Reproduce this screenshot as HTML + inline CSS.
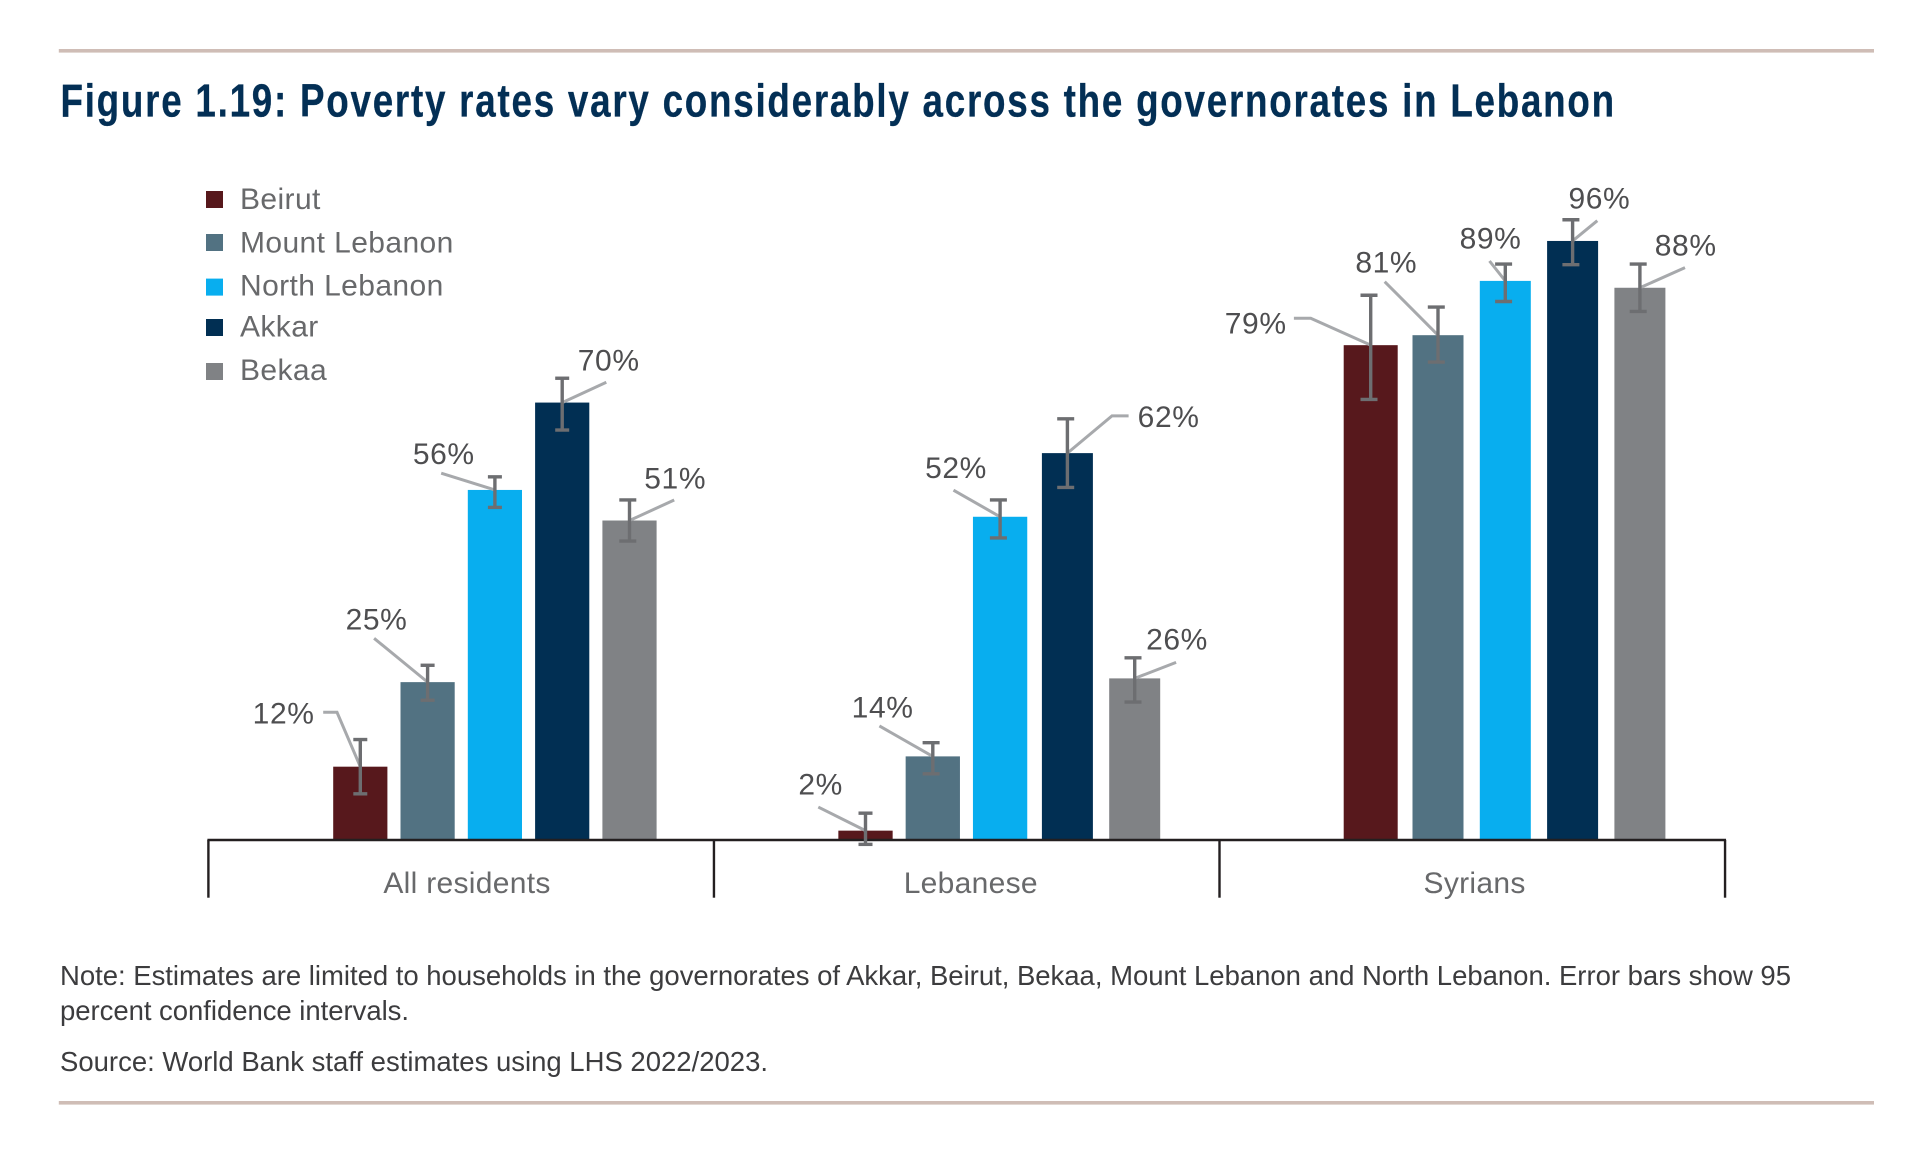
<!DOCTYPE html>
<html lang="en">
<head>
<meta charset="utf-8">
<title>Figure 1.19: Poverty rates across governorates in Lebanon</title>
<style>
  html, body { margin: 0; padding: 0; background: #fff; width: 1922px; height: 1154px; overflow: hidden; }
  svg { display: block; }
  text { font-family: "Liberation Sans", sans-serif; }
  .title { font-family: "Liberation Sans", sans-serif; font-weight: 700; font-size: 46px; fill: #032f55; stroke: #032f55; stroke-width: .3px; }
  .foot { font-size: 27.5px; fill: #3c3c3e; }
  .legend-text { font-size: 30px; fill: #68696b; letter-spacing: .4px; }
  .cat-text { font-size: 30px; fill: #68696b; letter-spacing: .3px; }
  .pct { font-size: 30px; fill: #4e4e50; letter-spacing: .6px; text-anchor: middle; }
</style>
</head>
<body>
<svg id="figure" xmlns="http://www.w3.org/2000/svg" width="1922" height="1154" viewBox="0 0 1922 1154">
  <rect x="58.8" y="49" width="1815.2" height="3.6" fill="#cfbdb6"/>
  <text class="title" transform="translate(60.5,116.7) scale(.8,1)" x="0" y="0" textLength="1942" lengthAdjust="spacing">Figure 1.19: Poverty rates vary considerably across the governorates in Lebanon</text>
  <g id="chart"></g>
  <text class="foot" x="60" y="985" textLength="1731" lengthAdjust="spacing">Note: Estimates are limited to households in the governorates of Akkar, Beirut, Bekaa, Mount Lebanon and North Lebanon. Error bars show 95</text>
  <text class="foot" x="60" y="1020" textLength="349" lengthAdjust="spacing">percent confidence intervals.</text>
  <text class="foot" x="60" y="1071" textLength="708" lengthAdjust="spacing">Source: World Bank staff estimates using LHS 2022/2023.</text>
  <rect x="58.8" y="1101" width="1815.2" height="3.6" fill="#cfbdb6"/>
</svg>
<script>
// ---- chart data (percent of population) ----
const categories = ['All residents', 'Lebanese', 'Syrians'];
const seriesNames = ['Beirut', 'Mount Lebanon', 'North Lebanon', 'Akkar', 'Bekaa'];

const beirutValues = [11.75, 1.5, 79.3];
const mountLebanonValues = [25.3, 13.4, 80.9];
const northLebanonValues = [56.1, 51.8, 89.6];
const akkarValues = [70.1, 62, 96];
const bekaaValues = [51.2, 25.9, 88.5];

const beirutLow = [7.4, -0.7, 70.6];
const mountLebanonLow = [22.4, 10.6, 76.6];
const northLebanonLow = [53.3, 48.4, 86.3];
const akkarLow = [65.7, 56.5, 92.2];
const bekaaLow = [47.9, 22.1, 84.7];

const beirutHigh = [16.1, 4.3, 87.3];
const mountLebanonHigh = [28, 15.6, 85.4];
const northLebanonHigh = [58.2, 54.5, 92.3];
const akkarHigh = [74, 67.5, 99.4];
const bekaaHigh = [54.5, 29.2, 92.3];

const beirutPrinted = ['12%', '2%', '79%'];
const mountLebanonPrinted = ['25%', '14%', '81%'];
const northLebanonPrinted = ['56%', '52%', '89%'];
const akkarPrinted = ['70%', '62%', '96%'];
const bekaaPrinted = ['51%', '26%', '88%'];

// ---- presentation ----
const seriesColors = ['#57181c', '#527282', '#08aeef', '#012f53', '#808285'];
const valueSets = [beirutValues, mountLebanonValues, northLebanonValues, akkarValues, bekaaValues];
const lowSets = [beirutLow, mountLebanonLow, northLebanonLow, akkarLow, bekaaLow];
const highSets = [beirutHigh, mountLebanonHigh, northLebanonHigh, akkarHigh, bekaaHigh];
const printedSets = [beirutPrinted, mountLebanonPrinted, northLebanonPrinted, akkarPrinted, bekaaPrinted];

// callout layout relative to each bar's top-centre: [label dx, label dy, [leader points...]]
const calloutLayout = [
  [[-76.7,-43.4,[[-37.1,-54.4],[-23.3,-54.4]]], [-44.9,-36.3,[[-47.2,-23.6]]], [-115,-11.9,[[-76.8,-26.9],[-60,-26.9]]]],
  [[-51.1,-52.8,[[-53.5,-43.8]]], [-50.2,-38.9,[[-53.4,-30.4]]], [-51.7,-62.5,[[-53.3,-53.5]]]],
  [[-51.1,-25.7,[[-53.7,-16.7]]], [-44.1,-38.8,[[-46.6,-26.6]]], [-14.8,-32.2,[[-15.8,-19.9]]]],
  [[46.5,-31.9,[[44.1,-20.3]]], [101.2,-25.9,[[61.2,-37.3],[44.6,-37.3]]], [26.8,-32.3,[[24.7,-20.3]]]],
  [[45.7,-32.2,[[44.7,-20.5]]], [42.3,-28.8,[[41.4,-16]]], [45.8,-32.1,[[45.1,-20.1]]]]
];

const SVGNS = 'http://www.w3.org/2000/svg';
const chart = document.getElementById('chart');
const baselineY = 840;
const pxPerPoint = 6.24;
const axisLeft = 208.4;
const categoryWidth = 505.55;
const firstBarCentre = 360.3;
const groupPitch = 505.2;
const barPitch = 67.3;

function yScale(v) { return baselineY - v * pxPerPoint; }
function xScale(group, slot) { return firstBarCentre + group * groupPitch + slot * barPitch; }
function categoryEdge(i) { return axisLeft + i * categoryWidth; }
function categoryLabelX(i) { return 467 + i * 503.8; }
// the source chart draws later bars of the second and third groups slightly narrower
function barWidth(group, slot) {
  if (group === 0) return 54.2;
  if (group === 1) return slot < 3 ? 54.3 : 51;
  return slot === 0 ? 54 : 51;
}
function isSmallCap(group, slot) { return (group === 0 && slot < 4) || (group === 1 && slot === 0); }

function make(tag, attrs, parent) {
  const node = document.createElementNS(SVGNS, tag);
  for (const k in attrs) node.setAttribute(k, attrs[k]);
  parent.appendChild(node);
  return node;
}

// legend
const legendTops = [191, 234, 278.6, 319, 363];
const legendBaselines = [209, 252.7, 295.7, 336.7, 380];
seriesNames.forEach(function (name, s) {
  const entry = make('g', {}, chart);
  
  
  const swatch = make('rect', { x: 206, y: legendTops[s], width: 17, height: 17, fill: seriesColors[s] }, entry);
  
  
  const label = make('text', { x: 240, y: legendBaselines[s], class: 'legend-text' }, entry);
  label.textContent = name;
  
  
});

// bars
seriesNames.forEach(function (name, s) {
  categories.forEach(function (cat, g) {
    const v = valueSets[s][g];
    const w = barWidth(g, s);
    const bar = make('rect', {
      x: xScale(g, s) - w / 2,
      y: yScale(v),
      width: w,
      height: baselineY - yScale(v),
      fill: seriesColors[s]
    }, chart);
    
    
  });
});

// axis
const axisLine = make('line', { x1: categoryEdge(0) - 1, x2: categoryEdge(3) + 1, y1: baselineY, y2: baselineY, stroke: '#231f20', 'stroke-width': 2.6 }, chart);


for (let i = 0; i <= categories.length; i++) {
  const tick = make('line', { x1: categoryEdge(i), x2: categoryEdge(i), y1: baselineY, y2: 897.7, stroke: '#231f20', 'stroke-width': 2.4 }, chart);
  
  
}
categories.forEach(function (cat, g) {
  const label = make('text', { x: categoryLabelX(g), y: 893, class: 'cat-text', 'text-anchor': 'middle' }, chart);
  label.textContent = cat;
  
  
});

// callout leaders and printed values
seriesNames.forEach(function (name, s) {
  categories.forEach(function (cat, g) {
    const ax = xScale(g, s);
    const ay = yScale(valueSets[s][g]);
    const layout = calloutLayout[s][g];
    const pts = layout[2].map(function (p) { return (ax + p[0]) + ',' + (ay + p[1]); });
    pts.push(ax + ',' + ay);
    const leader = make('polyline', { points: pts.join(' '), fill: 'none', stroke: '#a7a9ac', 'stroke-width': 3 }, chart);
    
    
    const label = make('text', { x: ax + layout[0], y: ay + layout[1], class: 'pct' }, chart);
    label.textContent = printedSets[s][g];
    
    
  });
});

// error bars
seriesNames.forEach(function (name, s) {
  categories.forEach(function (cat, g) {
    const cx = xScale(g, s);
    const top = yScale(highSets[s][g]);
    const bottom = yScale(lowSets[s][g]);
    const small = isSmallCap(g, s);
    const capHalf = small ? 7 : 8.5;
    const capX = small ? cx : cx - 1.7;
    const group = make('g', { stroke: '#6d6e71', 'stroke-width': 3.4, fill: 'none' }, chart);
    
    
    make('line', { x1: cx, x2: cx, y1: top, y2: bottom }, group);
    make('line', { x1: capX - capHalf, x2: capX + capHalf, y1: top, y2: top }, group);
    make('line', { x1: capX - capHalf, x2: capX + capHalf, y1: bottom, y2: bottom }, group);
  });
});
</script>
</body>
</html>
